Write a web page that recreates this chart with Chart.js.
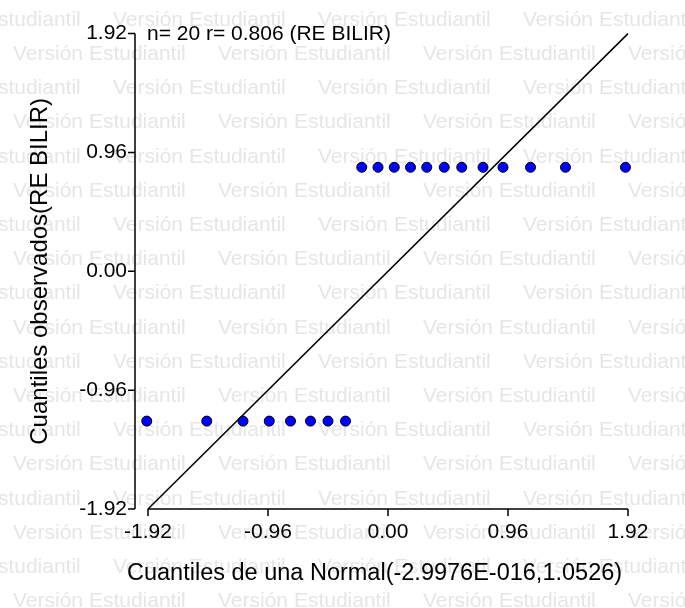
<!DOCTYPE html>
<html>
<head>
<meta charset="utf-8">
<script src="https://cdn.jsdelivr.net/npm/chart.js@4.4.1/dist/chart.umd.min.js"></script>
<style>
  html, body { margin: 0; padding: 0; background: #fff; }
  #wrap { width: 685px; height: 608px; }
</style>
</head>
<body>
<div id="wrap"><canvas id="qq" width="685" height="608"></canvas></div>
<script>
// QQ plot data
var normalQuantiles = [-1.93, -1.45, -1.16, -0.95, -0.78, -0.62, -0.48, -0.34, -0.21, -0.08,
                       0.05, 0.18, 0.31, 0.45, 0.59, 0.76, 0.92, 1.14, 1.42, 1.90];
var observedQuantiles = [-1.21, -1.21, -1.21, -1.21, -1.21, -1.21, -1.21, -1.21,
                         0.84, 0.84, 0.84, 0.84, 0.84, 0.84, 0.84, 0.84, 0.84, 0.84, 0.84, 0.84];
var tickValues = [-1.92, -0.96, 0.00, 0.96, 1.92];
var refLineX = [-1.92, 1.92];
var refLineY = [-1.92, 1.92];
var annotation = 'n= 20 r= 0.806 (RE BILIR)';
var xTitle = 'Cuantiles de una Normal(-2.9976E-016,1.0526)';
var yTitle = 'Cuantiles observados(RE BILIR)';
var watermark = 'Versión Estudiantil';

var fontFamily = '"Liberation Sans", Arial, sans-serif';

var decor = {
    id: 'decor',
    beforeDraw: function (chart) {
        var ctx = chart.ctx;
        ctx.save();
        ctx.fillStyle = '#fff';
        ctx.fillRect(0, 0, chart.width, chart.height);
        // tiled watermark
        ctx.font = '21px ' + fontFamily;
        ctx.fillStyle = '#e6e6e6';
        ctx.textBaseline = 'middle';
        ctx.textAlign = 'left';
        for (var row = 0; row < 18; row++) {
            var y = 20 + row * 34.2;
            var start = row % 2 === 0 ? -92 : 13;
            for (var x = start; x < chart.width; x += 205) {
                ctx.fillText(watermark, x, y);
            }
        }
        ctx.restore();
    },
    beforeDatasetsDraw: function (chart) {
        var ctx = chart.ctx;
        var xs = chart.scales.x, ys = chart.scales.y;
        var axisX = 135;
        var axisY = ys.getPixelForValue(tickValues[0]);
        var first = tickValues[0], last = tickValues[tickValues.length - 1];
        ctx.save();
        ctx.strokeStyle = '#000';
        ctx.lineWidth = 1.5;
        ctx.beginPath();
        ctx.moveTo(axisX, ys.getPixelForValue(last));
        ctx.lineTo(axisX, ys.getPixelForValue(first));
        tickValues.forEach(function (v) {
            var p = ys.getPixelForValue(v);
            ctx.moveTo(axisX - 7, p);
            ctx.lineTo(axisX, p);
        });
        ctx.moveTo(xs.getPixelForValue(first), axisY);
        ctx.lineTo(xs.getPixelForValue(last), axisY);
        tickValues.forEach(function (v) {
            var p = xs.getPixelForValue(v);
            ctx.moveTo(p, axisY);
            ctx.lineTo(p, axisY + 7);
        });
        ctx.stroke();
        ctx.restore();
    },
    afterDraw: function (chart) {
        var ctx = chart.ctx;
        ctx.save();
        ctx.fillStyle = '#000';
        ctx.textAlign = 'left';
        ctx.textBaseline = 'middle';
        ctx.font = '21px ' + fontFamily;
        ctx.fillText(annotation, 147, 34);
        ctx.font = '23.5px ' + fontFamily;
        ctx.fillText(xTitle, 127, 574);
        ctx.restore();
    }
};

var points = normalQuantiles.map(function (x, i) {
    return { x: x, y: observedQuantiles[i] };
});
var refLine = refLineX.map(function (x, i) {
    return { x: x, y: refLineY[i] };
});

var tickFont = { family: fontFamily, size: 21 };

new Chart(document.getElementById('qq'), {
    type: 'scatter',
    data: {
        datasets: [{
            type: 'line',
            data: refLine,
            borderColor: '#000',
            borderWidth: 1.5,
            pointRadius: 0,
            fill: false,
            clip: false,
            order: 0
        }, {
            data: points,
            backgroundColor: '#0000ff',
            borderColor: '#000',
            borderWidth: 1,
            pointRadius: 5,
            clip: false,
            order: 1
        }]
    },
    options: {
        responsive: false,
        animation: false,
        devicePixelRatio: 1,
        layout: { padding: { top: 33, right: 57, left: 0, bottom: 0 } },
        plugins: {
            legend: { display: false },
            tooltip: { enabled: false }
        },
        scales: {
            x: {
                type: 'linear',
                min: -1.92,
                max: 1.92,
                grid: { display: false, drawTicks: false },
                border: { display: false },
                ticks: {
                    color: '#000',
                    font: tickFont,
                    padding: 11,
                    maxRotation: 0,
                    autoSkip: false,
                    callback: function (v) { return Number(v).toFixed(2); }
                },
                afterBuildTicks: function (s) {
                    s.ticks = tickValues.map(function (v) { return { value: v }; });
                },
                afterFit: function (s) { s.height = 99; }
            },
            y: {
                type: 'linear',
                min: -1.92,
                max: 1.92,
                grid: { display: false, drawTicks: false },
                border: { display: false },
                ticks: {
                    color: '#000',
                    font: tickFont,
                    padding: 21,
                    autoSkip: false,
                    callback: function (v) { return Number(v).toFixed(2); }
                },
                title: {
                    display: true,
                    text: yTitle,
                    color: '#000',
                    font: { family: fontFamily, size: 24 },
                    padding: { top: 26, bottom: 0 }
                },
                afterBuildTicks: function (s) {
                    s.ticks = tickValues.map(function (v) { return { value: v }; });
                },
                afterFit: function (s) { s.width = 148; }
            }
        }
    },
    plugins: [decor]
});
</script>
</body>
</html>
